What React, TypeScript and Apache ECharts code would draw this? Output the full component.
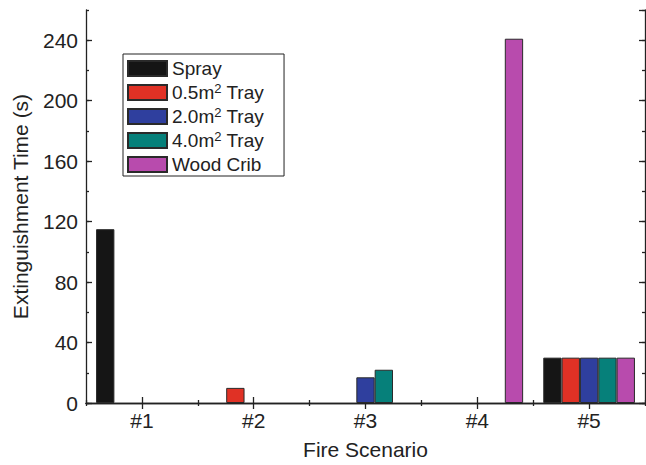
import React, { useEffect, useRef } from 'react';
import * as echarts from 'echarts';

const categories = ['#1', '#2', '#3', '#4', '#5'];
const seriesNames = ['Spray', '0.5m² Tray', '2.0m² Tray', '4.0m² Tray', 'Wood Crib'];
const sprayValues = [115, null, null, null, 30];
const tray05Values = [null, 10, null, null, 30];
const tray20Values = [null, null, 17, null, 30];
const tray40Values = [null, null, 22, null, 30];
const woodCribValues = [null, null, null, 241, 30];
const seriesValues = [sprayValues, tray05Values, tray20Values, tray40Values, woodCribValues];
const colors = ['#151515', '#e03125', '#2f3f9e', '#06807a', '#b84bad'];
const yMin = 0;
const yMax = 260;
const yMajor = 40;
const yMinor = 20;

const FONT = '"Liberation Sans", Arial, Helvetica, sans-serif';
const INK = '#222';

export default function App() {
  const ref = useRef<HTMLDivElement>(null);
  useEffect(() => {
    document.body.style.margin = '0';
    if (!ref.current) return;
    const chart = echarts.init(ref.current, null, { renderer: 'svg' });
    const lineStyle = { color: INK, width: 1.3 };
    const xBase = { type: 'category' as const, data: categories, boundaryGap: true };
    const yBase = { type: 'value' as const, min: yMin, max: yMax, splitLine: { show: false } };
    chart.setOption({
      animation: false,
      textStyle: { fontFamily: FONT, color: INK },
      grid: { left: 86, right: 1, top: 10, bottom: 57 },
      legend: {
        orient: 'vertical',
        left: 123,
        top: 54,
        padding: [4, 20, 1, 4],
        itemWidth: 39,
        itemHeight: 15,
        itemGap: 3,
        icon: 'rect',
        borderColor: INK,
        borderWidth: 1,
        borderRadius: 0,
        data: seriesNames,
        formatter: (n: string) => n.replace('²', '{sup|2}'),
        textStyle: {
          fontSize: 19,
          lineHeight: 21,
          color: INK,
          fontFamily: FONT,
          rich: {
            sup: { fontSize: 13, lineHeight: 21, color: INK, fontFamily: FONT, verticalAlign: 'top', padding: [0, 0, 7, 0] },
          },
        },
      },
      xAxis: [
        {
          ...xBase,
          position: 'bottom',
          name: 'Fire Scenario',
          nameLocation: 'middle',
          nameGap: 36,
          nameTextStyle: { fontSize: 21, color: INK, fontFamily: FONT },
          axisLine: { show: true, lineStyle },
          axisTick: { show: true, inside: true, alignWithLabel: true, length: 6, lineStyle },
          axisLabel: { fontSize: 21, color: INK, margin: 7, fontFamily: FONT },
          splitLine: { show: false },
        },
        {
          ...xBase,
          position: 'bottom',
          axisLine: { show: false },
          axisTick: { show: true, inside: true, alignWithLabel: false, length: 3, lineStyle },
          axisLabel: { show: false },
          splitLine: { show: false },
        },
        {
          ...xBase,
          position: 'top',
          axisLine: { show: true, lineStyle },
          axisTick: { show: true, inside: true, alignWithLabel: true, length: 6, lineStyle },
          axisLabel: { show: false },
          splitLine: { show: false },
        },
        {
          ...xBase,
          position: 'top',
          axisLine: { show: false },
          axisTick: { show: true, inside: true, alignWithLabel: false, length: 3, lineStyle },
          axisLabel: { show: false },
          splitLine: { show: false },
        },
      ],
      yAxis: [
        {
          ...yBase,
          position: 'left',
          interval: yMajor,
          name: 'Extinguishment Time (s)',
          nameLocation: 'middle',
          nameGap: 55,
          nameTextStyle: { fontSize: 21, color: INK, fontFamily: FONT },
          axisLine: { show: true, lineStyle },
          axisTick: { show: true, inside: true, length: 6, lineStyle },
          axisLabel: { fontSize: 21, color: INK, margin: 8, fontFamily: FONT, showMaxLabel: false },
        },
        {
          ...yBase,
          position: 'left',
          interval: yMinor,
          axisLine: { show: false },
          axisTick: { show: true, inside: true, length: 3, lineStyle },
          axisLabel: { show: false },
        },
        {
          ...yBase,
          position: 'right',
          interval: yMajor,
          axisLine: { show: true, lineStyle },
          axisTick: { show: true, inside: true, length: 6, lineStyle },
          axisLabel: { show: false },
        },
        {
          ...yBase,
          position: 'right',
          interval: yMinor,
          axisLine: { show: false },
          axisTick: { show: true, inside: true, length: 3, lineStyle },
          axisLabel: { show: false },
        },
      ],
      series: seriesNames.map((name, i) => ({
        name,
        type: 'bar',
        xAxisIndex: 0,
        yAxisIndex: 0,
        data: seriesValues[i],
        barGap: '0%',
        barCategoryGap: '18%',
        itemStyle: { color: colors[i], borderColor: '#2a2a2a', borderWidth: 1 },
      })),
    });
    return () => chart.dispose();
  }, []);
  return <div ref={ref} style={{ width: 646, height: 465 }} />;
}
